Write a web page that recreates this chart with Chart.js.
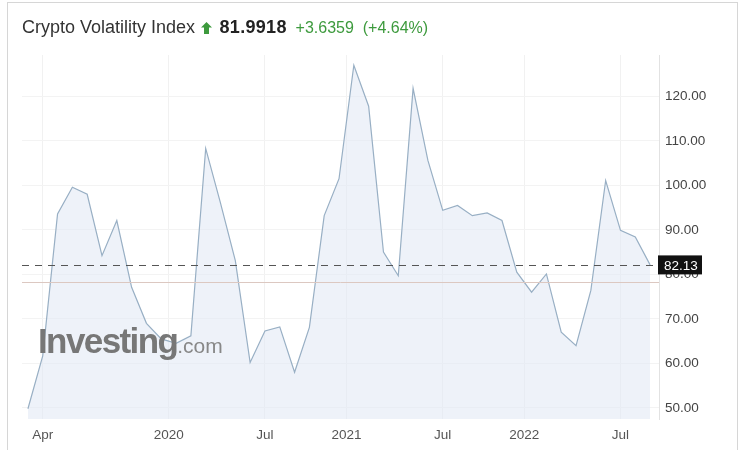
<!DOCTYPE html>
<html>
<head>
<meta charset="utf-8">
<script src="https://cdn.jsdelivr.net/npm/chart.js@4.4.1/dist/chart.umd.min.js"></script>
<style>
  html, body { margin: 0; padding: 0; background: #fff; }
  #wrap { position: relative; width: 750px; height: 450px; overflow: hidden; font-family: "Liberation Sans", Arial, sans-serif; }
  #frame { position: absolute; left: 7px; top: 2px; width: 729px; height: 470px; border: 1px solid #d6d6d6; border-bottom: none; }
  #title { position: absolute; left: 22px; top: 15px; white-space: nowrap; line-height: 24px; }
  #title .name { font-size: 18px; color: #333; }
  #title .last { font-size: 18px; font-weight: bold; color: #222; letter-spacing: 0.3px; }
  #title .chg { font-size: 16px; color: #3d9a3d; }
  #title svg { vertical-align: -1px; margin: 0 3px 0 6px; }
  canvas { position: absolute; left: 0; top: 0; }
</style>
</head>
<body>
<div id="wrap">
  <div id="frame"></div>
  <canvas id="chart" width="750" height="450"></canvas>
  <div id="title">
    <span class="name">Crypto Volatility Index</span><svg width="11" height="12" viewBox="0 0 11 12"><polygon points="5.5,0 11,5.5 8,5.5 8,12 3,12 3,5.5 0,5.5" fill="#3d9a3d"/></svg>
    <span class="last">81.9918</span>
    <span class="chg">&nbsp;+3.6359&nbsp;&nbsp;(+4.64%)</span>
  </div>
</div>
<script>
  // monthly readings, Mar 2019 .. Sep 2022
  const months = [
    '2019-03', '2019-04', '2019-05', '2019-06', '2019-07', '2019-08', '2019-09', '2019-10', '2019-11', '2019-12',
    '2020-01', '2020-02', '2020-03', '2020-04', '2020-05', '2020-06', '2020-07', '2020-08', '2020-09', '2020-10', '2020-11', '2020-12',
    '2021-01', '2021-02', '2021-03', '2021-04', '2021-05', '2021-06', '2021-07', '2021-08', '2021-09', '2021-10', '2021-11', '2021-12',
    '2022-01', '2022-02', '2022-03', '2022-04', '2022-05', '2022-06', '2022-07', '2022-08', '2022-09'
  ];
  const values = [
    49.8, 61.7, 93.6, 99.6, 98.0, 84.2, 92.1, 77.1, 69.0, 65.5,
    64.5, 66.2, 108.3, 96.0, 83.1, 60.2, 67.3, 68.2, 58.0, 68.1, 93.2, 101.5,
    127.0, 117.8, 85.0, 79.7, 121.8, 105.6, 94.4, 95.5, 93.2, 93.8, 92.1, 80.5,
    76.0, 80.1, 67.0, 64.0, 76.4, 101.1, 89.9, 88.4, 82.13
  ];
  const xTickMonths = ['2019-04', '2020-01', '2020-07', '2021-01', '2021-07', '2022-01', '2022-07'];
  const xTickLabels = ['Apr', '2020', 'Jul', '2021', 'Jul', '2022', 'Jul'];
  const yTicks = [50, 60, 70, 80, 90, 100, 110, 120];
  const lastValue = 82.13;
  const prevClose = 78.36;

  // year labels sit between December and January
  const xTickVals = xTickMonths.map((m, i) =>
    months.indexOf(m) - (/^\d{4}$/.test(xTickLabels[i]) ? 0.5 : 0));

  const points = values.map((v, i) => ({ x: i, y: v }));

  const overlays = {
    id: 'overlays',
    afterDatasetsDraw(chart) {
      const { ctx, chartArea } = chart;
      const y = chart.scales.y;
      ctx.save();
      // watermark
      ctx.fillStyle = '#777';
      ctx.textBaseline = 'alphabetic';
      ctx.font = 'bold 35px "Liberation Sans", Arial, sans-serif';
      ctx.letterSpacing = '-1.6px';
      ctx.fillText('Investing', 38, 353);
      const w = ctx.measureText('Investing').width;
      ctx.letterSpacing = '0px';
      ctx.fillStyle = '#888';
      ctx.font = '21px "Liberation Sans", Arial, sans-serif';
      ctx.fillText('.com', 38 + w, 353);

      // previous close
      const py = Math.round(y.getPixelForValue(prevClose)) + 0.5;
      ctx.strokeStyle = '#dcc8c1';
      ctx.lineWidth = 1;
      ctx.beginPath();
      ctx.moveTo(chartArea.left, py);
      ctx.lineTo(chartArea.right, py);
      ctx.stroke();

      // last value dashed line
      const ly = Math.round(y.getPixelForValue(lastValue)) + 0.5;
      ctx.strokeStyle = '#555';
      ctx.setLineDash([7, 6]);
      ctx.beginPath();
      ctx.moveTo(chartArea.left, ly);
      ctx.lineTo(chartArea.right, ly);
      ctx.stroke();
      ctx.restore();
    },
    afterDraw(chart) {
      const { ctx, chartArea } = chart;
      const ly = chart.scales.y.getPixelForValue(lastValue);
      ctx.save();
      ctx.fillStyle = '#111';
      ctx.fillRect(chartArea.right - 1, ly - 9.5, 44, 19);
      ctx.fillStyle = '#fff';
      ctx.font = '13.5px "Liberation Sans", Arial, sans-serif';
      ctx.textBaseline = 'middle';
      ctx.fillText(lastValue.toFixed(2), chartArea.right + 5, ly + 1);
      ctx.restore();
    }
  };

  new Chart(document.getElementById('chart'), {
    type: 'line',
    data: {
      datasets: [{
        data: points,
        borderColor: '#98afc4',
        borderWidth: 1.2,
        backgroundColor: 'rgba(226, 234, 245, 0.6)',
        fill: 'start',
        tension: 0,
        pointRadius: 0
      }]
    },
    options: {
      responsive: false,
      animation: false,
      devicePixelRatio: 1,
      layout: { padding: { left: 22, top: 55, right: 11, bottom: 5 } },
      plugins: { legend: { display: false }, tooltip: { enabled: false } },
      scales: {
        x: {
          type: 'linear',
          min: -0.4,
          max: 42.6,
          afterBuildTicks: (scale) => { scale.ticks = xTickVals.map(v => ({ value: v })); },
          afterFit: (scale) => { scale.height = 26; },
          border: { display: false },
          grid: { color: '#f1f1f1', drawTicks: false },
          ticks: {
            autoSkip: false,
            maxRotation: 0,
            padding: 8,
            color: '#555',
            font: { family: '"Liberation Sans", Arial, sans-serif', size: 13.5 },
            callback: (v) => xTickLabels[xTickVals.indexOf(v)] ?? ''
          }
        },
        y: {
          position: 'right',
          min: 47.5,
          max: 129.3,
          afterBuildTicks: (scale) => { scale.ticks = yTicks.map(v => ({ value: v })); },
          afterFit: (scale) => { scale.width = 80; },
          border: { display: true, color: '#e2e2e2' },
          grid: { color: '#f3f3f3', drawTicks: false },
          ticks: {
            padding: 6,
            color: '#444',
            font: { family: '"Liberation Sans", Arial, sans-serif', size: 13.5 },
            callback: (v) => Number(v).toFixed(2)
          }
        }
      }
    },
    plugins: [overlays]
  });
</script>
</body>
</html>
